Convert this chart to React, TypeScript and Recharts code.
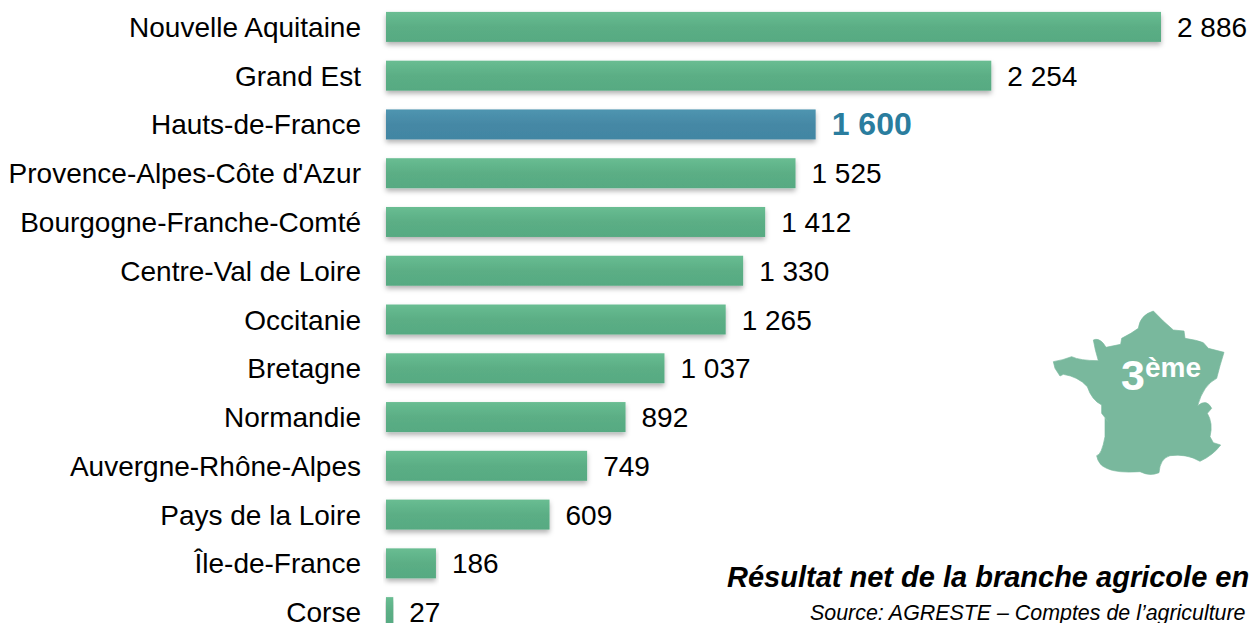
import { BarChart, Bar, XAxis, YAxis, LabelList } from "recharts";

const regions = [
  "Nouvelle Aquitaine",
  "Grand Est",
  "Hauts-de-France",
  "Provence-Alpes-Côte d'Azur",
  "Bourgogne-Franche-Comté",
  "Centre-Val de Loire",
  "Occitanie",
  "Bretagne",
  "Normandie",
  "Auvergne-Rhône-Alpes",
  "Pays de la Loire",
  "Île-de-France",
  "Corse",
];
const values = [2886, 2254, 1600, 1525, 1412, 1330, 1265, 1037, 892, 749, 609, 186, 27];
const highlight = "Hauts-de-France";

const data = regions.map((name, i) => ({ name, value: values[i] }));

const FONT = "'Liberation Sans', Arial, sans-serif";
const fmt = (v: number) => String(v).replace(/\B(?=(\d{3})+$)/g, " ");

const BarShape = (props: any) => {
  const { x, y, width, height, payload } = props;
  const fill = payload.name === highlight ? "url(#blueBar)" : "url(#greenBar)";
  return <rect x={x} y={y} width={width} height={height} fill={fill} filter="url(#barShadow)" />;
};

const ValueLabel = (props: any) => {
  const { x, y, width, height, index } = props;
  const hot = regions[index] === highlight;
  return (
    <text
      x={x + width + 16}
      y={y + height / 2 + (hot ? 11 : 10)}
      fontFamily={FONT}
      fontSize={hot ? 32 : 28}
      fontWeight={hot ? "bold" : "normal"}
      fill={hot ? "#2a7d9e" : "#000"}
    >
      {fmt(values[index])}
    </text>
  );
};

const CategoryTick = (props: any) => {
  const { x, y, payload } = props;
  return (
    <text x={x + 6} y={y + 10} textAnchor="end" fontFamily={FONT} fontSize={28} fill="#000">
      {payload.value}
    </text>
  );
};

const mapPath =
  "M160 215 Q190 210 215 200 Q240 212 295 212 Q285 180 280 150 Q295 143 310 160 L318 172 L362 163 L365 145 Q395 130 415 115 Q420 75 460 63 Q490 95 520 120 L552 123 L555 145 Q590 150 610 158 L625 175 L672 187 Q660 225 650 265 Q610 285 593 347 Q620 325 635 355 L622 370 Q640 400 630 440 L640 458 L662 465 Q640 495 600 514 Q560 490 510 497 Q480 505 477 548 Q450 560 420 545 Q350 550 320 535 Q295 525 290 497 Q305 495 315 440 L315 385 L327 398 L305 370 L305 345 Q275 330 262 290 Q235 260 190 253 L180 258 L165 235 Z";

export default function App() {
  return (
    <div
      style={{
        position: "absolute",
        left: 0,
        top: 0,
        width: 1249,
        height: 623,
        overflow: "hidden",
        background: "#fff",
      }}
    >
      <BarChart
        width={1249}
        height={640}
        data={data}
        layout="vertical"
        margin={{ top: 2.5, right: 88, bottom: 3.5, left: 0 }}
        barCategoryGap={9.4}
      >
        <defs>
          <linearGradient id="greenBar" x1="0" y1="0" x2="0" y2="1">
            <stop offset="0" stopColor="#69bd92" />
            <stop offset="0.5" stopColor="#5bae85" />
            <stop offset="1" stopColor="#57aa82" />
          </linearGradient>
          <linearGradient id="blueBar" x1="0" y1="0" x2="0" y2="1">
            <stop offset="0" stopColor="#4f95b0" />
            <stop offset="0.5" stopColor="#4588a5" />
            <stop offset="1" stopColor="#4286a3" />
          </linearGradient>
          <filter id="barShadow" x="-5%" y="-20%" width="110%" height="150%">
            <feDropShadow dx="0" dy="3" stdDeviation="2.5" floodColor="#000" floodOpacity="0.3" />
          </filter>
        </defs>
        <XAxis type="number" hide domain={[0, 2886]} />
        <YAxis
          type="category"
          dataKey="name"
          width={386}
          axisLine={false}
          tickLine={false}
          tickMargin={25}
          interval={0}
          tick={<CategoryTick />}
        />
        <Bar dataKey="value" isAnimationActive={false} shape={<BarShape />}>
          <LabelList dataKey="value" content={<ValueLabel />} />
        </Bar>
      </BarChart>

      <svg
        width={249}
        height={200}
        viewBox="0 0 747 600"
        style={{ position: "absolute", left: 1000, top: 290 }}
      >
        <path d={mapPath} fill="#79b89d" stroke="#79b89d" strokeLinejoin="round" strokeWidth={2} />
      </svg>
      <svg width={1249} height={623} style={{ position: "absolute", left: 0, top: 0 }}>
        <text x={1121} y={390} fontFamily={FONT} fontSize={43} fontWeight="bold" fill="#fff">
          3
        </text>
        <text x={1145} y={377} fontFamily={FONT} fontSize={28} fontWeight="bold" fill="#fff">
          ème
        </text>
        <text x={727} y={587} fontFamily={FONT} fontSize={29} fontWeight="bold" fontStyle="italic" fill="#000">
          Résultat net de la branche agricole en
        </text>
        <text x={810} y={620} fontFamily={FONT} fontSize={21.4} fontStyle="italic" fill="#000">
          Source: AGRESTE – Comptes de l’agriculture
        </text>
      </svg>
    </div>
  );
}
